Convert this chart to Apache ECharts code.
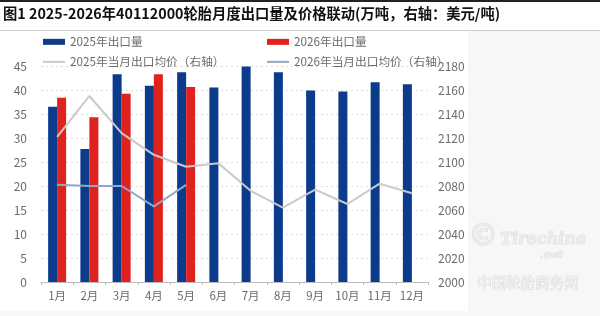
<!DOCTYPE html>
<html><head><meta charset="utf-8">
<script src="https://cdn.jsdelivr.net/npm/echarts@6/dist/echarts.min.js"></script>
<style>html,body{margin:0;padding:0;background:#fff}#c{width:600px;height:316px}</style>
</head><body><div id="c"></div>
<script>
const categories = ['1月','2月','3月','4月','5月','6月','7月','8月','9月','10月','11月','12月'];
const export2025 = [36.5, 27.7, 43.3, 40.9, 43.7, 40.5, 44.9, 43.7, 39.9, 39.7, 41.6, 41.2];
const export2026 = [38.4, 34.3, 39.2, 43.3, 40.6, null, null, null, null, null, null, null];
const price2025 = [2121, 2155, 2124, 2106, 2096, 2099, 2076, 2062, 2077, 2065, 2082, 2074];
const price2026 = [2081, 2080, 2080, 2063, 2081, null, null, null, null, null, null, null];
const leftTicks = {min: 0, max: 45, interval: 5};
const rightTicks = {min: 2000, max: 2180, interval: 20};
const names = ['2025年出口量','2026年出口量','2025年当月出口均价（右轴）','2026年当月出口均价（右轴）'];

const chart = echarts.init(document.getElementById('c'), null, {renderer:'canvas'});
const font = '"Noto Sans CJK SC", "Noto Sans", sans-serif';
const legendText = {color:'#6b6b6b', fontSize:11.7, fontFamily: font};
function lg(name, left, top, w, h){
  return {data:[{name:name, icon:'rect'}], left:left, top:top, itemWidth:w, itemHeight:h, itemGap:0, textStyle:legendText, padding:0, selectedMode:false};
}
chart.setOption({
  animation:false,
  backgroundColor:'#fff',
  graphic:[
    {type:'rect', shape:{x:0,y:0,width:600,height:2}, style:{fill:'#222'}},
    {type:'rect', shape:{x:0,y:30,width:600,height:1}, style:{fill:'#cfcfcf'}},
    {type:'rect', shape:{x:468,y:31,width:132,height:285}, style:{fill:'#f7f7f7'}, z:-1},
    {type:'rect', shape:{x:0,y:311,width:600,height:5}, style:{fill:'#f7f7f7'}, z:-1},
    {type:'text', left:500, top:232, style:{text:'Tirechina', font:'italic bold 16px "DejaVu Serif"', fill:'#ececec', stroke:'#d0d0d0', lineWidth:0.6}},
    {type:'text', left:468, top:222, style:{text:'©', font:'bold 30px "DejaVu Sans"', fill:'#ececec', stroke:'#d0d0d0', lineWidth:0.6}},
    {type:'text', left:540, top:250, style:{text:'.net', font:'italic bold 10px "DejaVu Sans"', fill:'#ececec', stroke:'#d0d0d0', lineWidth:0.5}},
    {type:'text', left:477, top:275, style:{text:'中国轮胎商务网', font:'14.5px "Noto Sans CJK SC"', fill:'#f0f0f0', stroke:'#d0d0d0', lineWidth:0.6}}
  ],
  title:{text:'图1 2025-2026年40112000轮胎月度出口量及价格联动(万吨，右轴：美元/吨)', left:3, top:6, padding:0,
    textStyle:{fontSize:14.3, fontWeight:'bold', color:'#111', fontFamily:font}},
  legend:[
    lg(names[0], 43, 36, 22, 6),
    lg(names[1], 267, 36, 22, 6),
    lg(names[2], 43, 56, 22, 2),
    lg(names[3], 267, 56, 22, 2)
  ],
  grid:{left:41, right:172, top:66, bottom:34},
  xAxis:{type:'category', data:categories,
    axisLine:{lineStyle:{color:'#bdbdbd'}},
    axisTick:{show:true, length:3, lineStyle:{color:'#bdbdbd'}},
    axisLabel:{color:'#6b6b6b', fontSize:11.5, fontFamily:font, margin:8}},
  yAxis:[
    {type:'value', min:leftTicks.min, max:leftTicks.max, interval:leftTicks.interval,
      axisLabel:{color:'#6b6b6b', fontSize:12, fontFamily:font, margin:14},
      splitLine:{lineStyle:{color:'#dedede', type:[2,3]}}, axisLine:{show:false}, axisTick:{show:false}},
    {type:'value', min:rightTicks.min, max:rightTicks.max, interval:rightTicks.interval,
      axisLabel:{color:'#6b6b6b', fontSize:12, fontFamily:font, margin:10, formatter:function(v){return String(v);}},
      splitLine:{show:false}, axisLine:{show:false}, axisTick:{show:false}}
  ],
  series:[
    {name:names[0], type:'bar', data:export2025, barWidth:9, barGap:'0%', itemStyle:{color:'#0d3b8c'}},
    {name:names[1], type:'bar', data:export2026, barWidth:9, barGap:'0%', itemStyle:{color:'#e0221f'}},
    {name:names[2], type:'line', yAxisIndex:1, data:price2025, symbol:'none', lineStyle:{color:'#c9c9c9', width:2}, itemStyle:{color:'#c9c9c9'}},
    {name:names[3], type:'line', yAxisIndex:1, data:price2026, symbol:'none', lineStyle:{color:'#8fa9c9', width:2}, itemStyle:{color:'#8fa9c9'}}
  ]
});
</script></body></html>
